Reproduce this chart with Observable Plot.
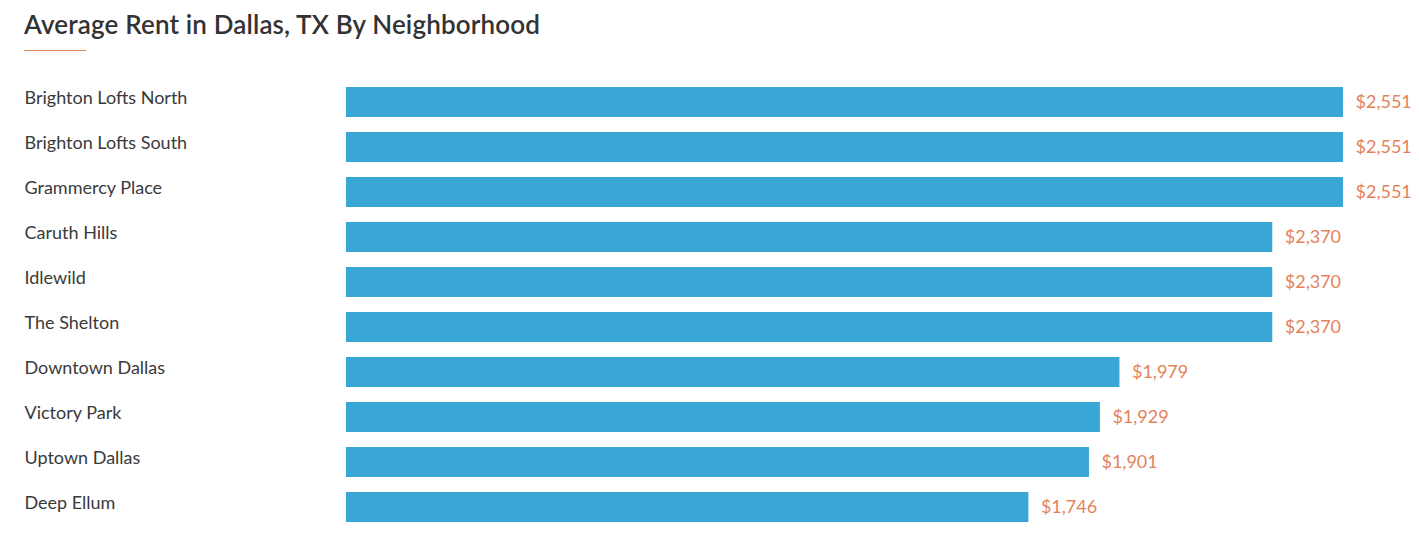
<!DOCTYPE html>
<html>
<head>
<meta charset="utf-8">
<script src="https://cdn.jsdelivr.net/npm/d3@7"></script>
<script src="https://cdn.jsdelivr.net/npm/@observablehq/plot@0.6"></script>
<style>
  html, body { margin: 0; padding: 0; background: #fff; }
  body { width: 1419px; height: 552px; position: relative; overflow: hidden; font-family: Lato, "Noto Sans", sans-serif; }
  #title { position: absolute; left: 24px; top: 8px; margin: 0; font-size: 26px; letter-spacing: 0.15px; font-weight: 600; color: #333; white-space: nowrap; }
  #rule { position: absolute; left: 24px; top: 50px; width: 62px; height: 1px; background: #e0874f; }
  #chart { position: absolute; left: 0; top: 60px; }
</style>
</head>
<body>
<h2 id="title">Average Rent in Dallas, TX By Neighborhood</h2>
<div id="rule"></div>
<div id="chart"></div>
<script>
const neighborhoods = ["Brighton Lofts North", "Brighton Lofts South", "Grammercy Place", "Caruth Hills", "Idlewild", "The Shelton", "Downtown Dallas", "Victory Park", "Uptown Dallas", "Deep Ellum"];
const rents = [2551, 2551, 2551, 2370, 2370, 2370, 1979, 1929, 1901, 1746];

const data = neighborhoods.map((name, i) => ({name, rent: rents[i]}));
const fmt = d3.format("$,");

const chart = Plot.plot({
  width: 1419,
  height: 492,
  marginLeft: 346,
  marginRight: 76,
  marginTop: 19.5,
  marginBottom: 22.5,
  style: {fontFamily: "Lato, 'Noto Sans', sans-serif", background: "#fff"},
  x: {domain: [0, 2551], axis: null},
  y: {domain: neighborhoods, paddingInner: 1/3, paddingOuter: 1/6, axis: null},
  marks: [
    Plot.barX(data, {x: "rent", y: "name", fill: "#39a7d6"}),
    Plot.text(data, {x: "rent", y: "name", text: d => fmt(d.rent), textAnchor: "start", dx: 12, fill: "#e5825a", fontSize: 18}),
    Plot.text(data, {y: "name", text: "name", frameAnchor: "left", textAnchor: "start", dx: -322, dy: -4, fill: "#3a3a3a", fontSize: 18})
  ]
});
document.getElementById("chart").appendChild(chart);
</script>
</body>
</html>
